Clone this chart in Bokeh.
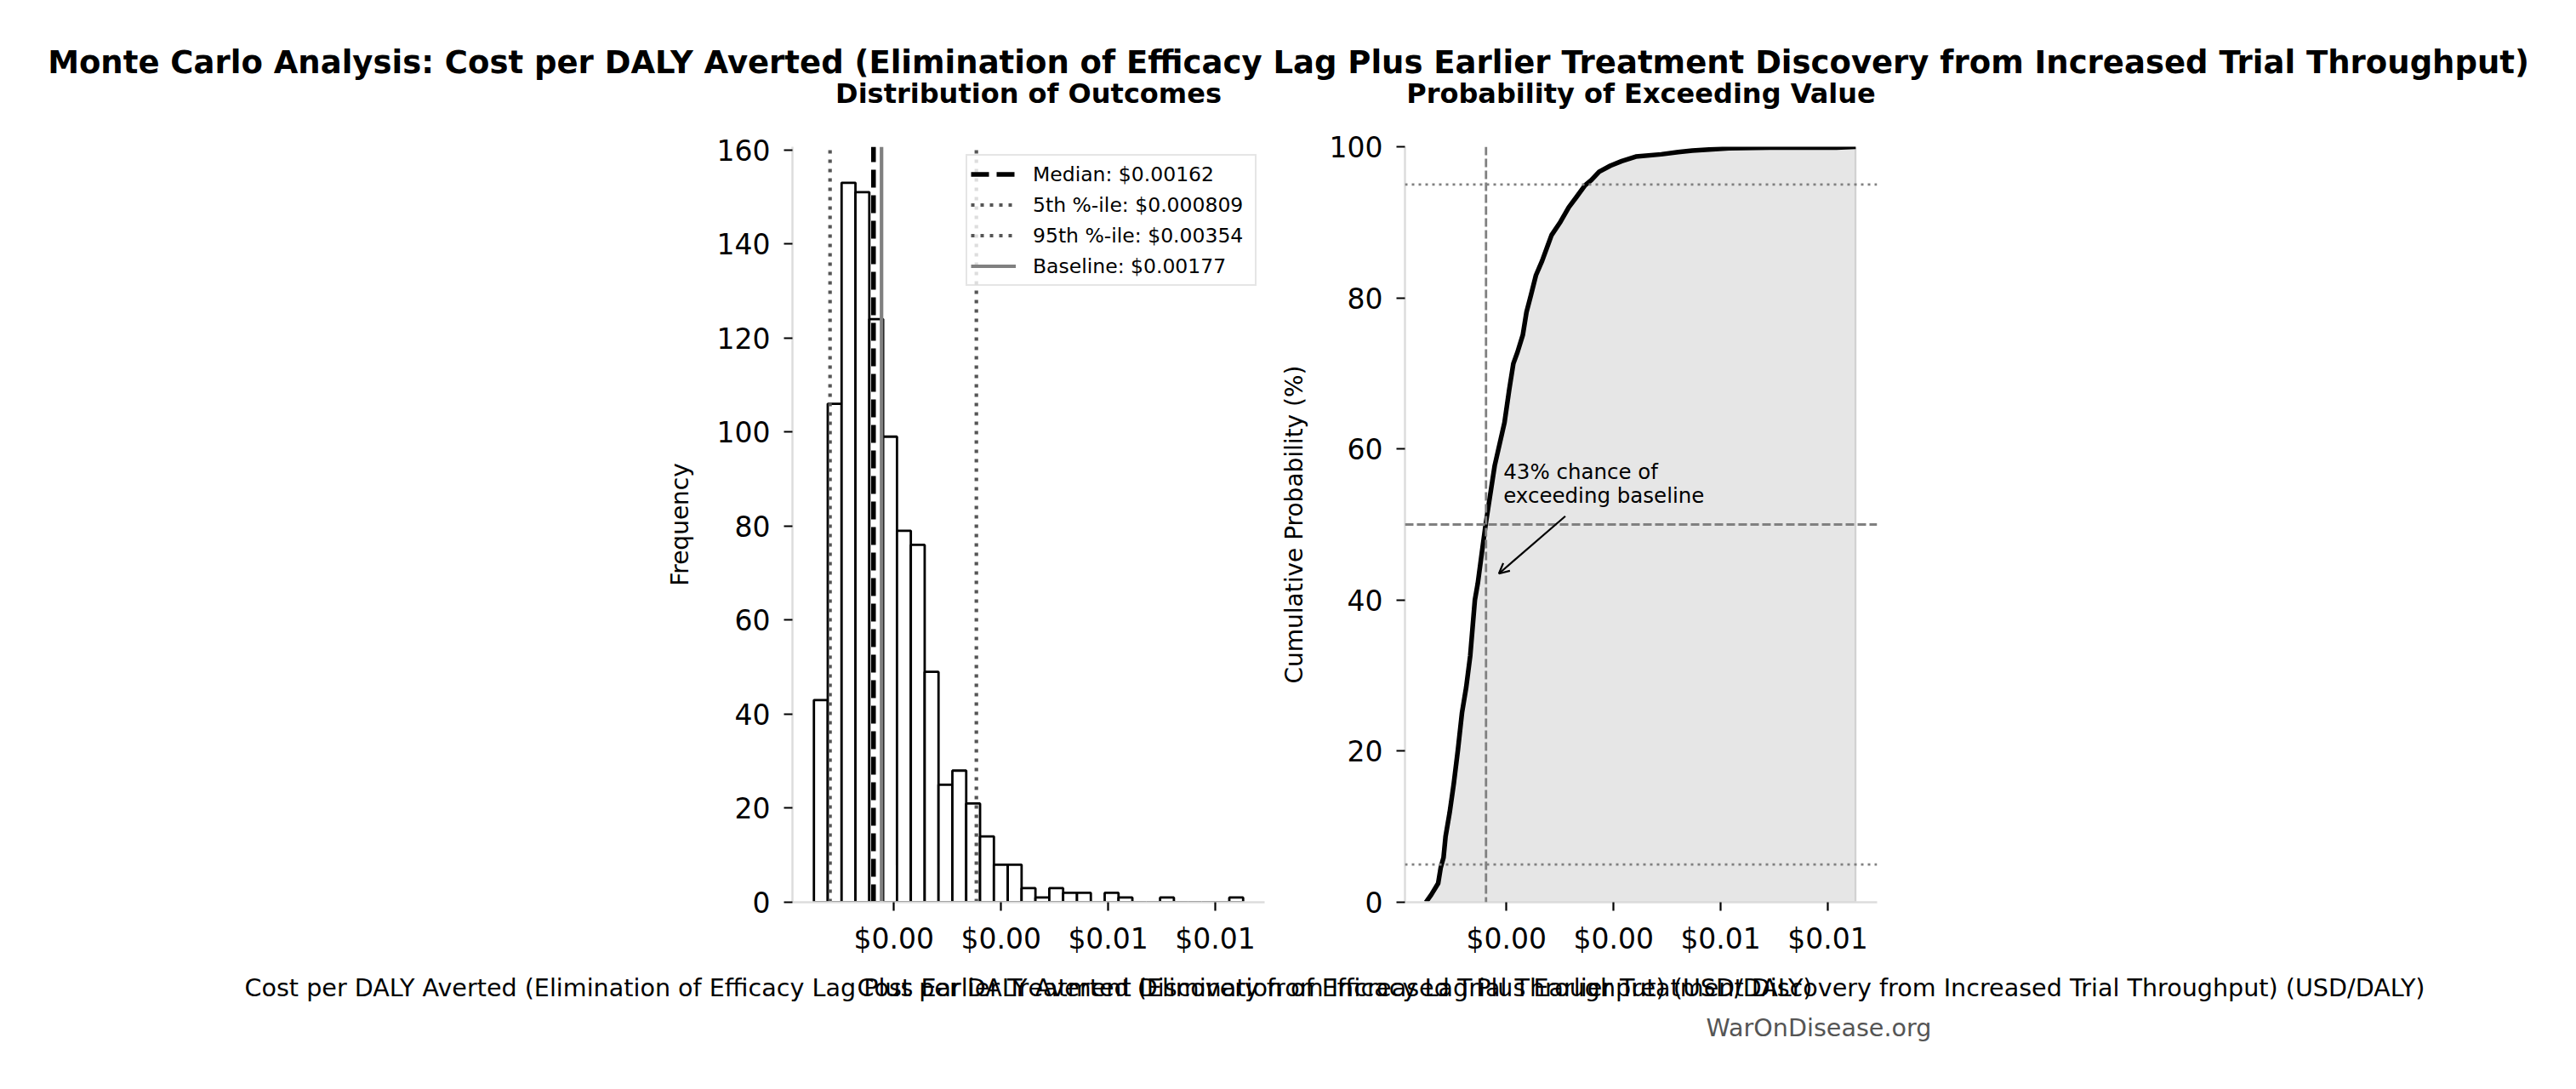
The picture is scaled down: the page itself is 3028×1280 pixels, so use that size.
import numpy as np
from bokeh.plotting import figure
from bokeh.models import (Range1d, FixedTicker, NumeralTickFormatter, Span, Label,
                          Legend, LegendItem, Arrow, OpenHead)
from bokeh.layouts import column, row
from bokeh.embed import file_html
from bokeh.resources import INLINE

# ---------------- data ----------------
hist_counts = [43, 106, 153, 151, 124, 99, 79, 76, 49, 25, 28, 21, 14, 8, 8, 3, 1, 3,
               2, 2, 0, 2, 1, 0, 0, 1, 0, 0, 0, 0, 1]
hist_min = 0.000508
hist_max = 0.008519

median_val = 0.00162
p5_val = 0.000809
p95_val = 0.00354
baseline_val = 0.00177
exceed_pct = 43

cdf_x = [0.000498, 0.000598, 0.000727, 0.000775, 0.000827, 0.000865, 0.000942, 0.001018,
         0.001096, 0.001172, 0.001249, 0.001325, 0.001412, 0.001466, 0.001556, 0.001613,
         0.001782, 0.001965, 0.002054, 0.002130, 0.002207, 0.002307, 0.002375, 0.002460,
         0.002552, 0.002667, 0.002781, 0.002843, 0.003012, 0.003165, 0.003303, 0.003467,
         0.003586, 0.003731, 0.003942, 0.004153, 0.004416, 0.004890, 0.005206, 0.005470,
         0.006153, 0.006920, 0.008158, 0.008519]
cdf_y = [0.0, 1.0, 2.5, 4.6, 5.9, 8.7, 11.9, 15.7, 20.2, 25.1, 28.4, 32.6, 40.0, 42.2,
         47.0, 50.0, 57.8, 63.5, 67.9, 71.3, 72.8, 75.1, 78.1, 80.4, 83.0, 84.9, 87.1,
         88.3, 90.1, 92.0, 93.3, 94.9, 95.6, 96.7, 97.5, 98.1, 98.7, 99.0, 99.3, 99.5,
         99.8, 99.9, 99.9, 100.0]

x_ticks = [0.002, 0.004, 0.006, 0.008]
freq_ticks = [0, 20, 40, 60, 80, 100, 120, 140, 160]
prob_ticks = [0, 20, 40, 60, 80, 100]

title_text = ("Monte Carlo Analysis: Cost per DALY Averted (Elimination of Efficacy Lag "
              "Plus Earlier Treatment Discovery from Increased Trial Throughput)")
sub_left = "Distribution of Outcomes"
sub_right = "Probability of Exceeding Value"
x_label = ("Cost per DALY Averted (Elimination of Efficacy Lag Plus Earlier Treatment "
           "Discovery from Increased Trial Throughput) (USD/DALY)")
y_label_left = "Frequency"
y_label_right = "Cumulative Probability (%)"
footer_text = "WarOnDisease.org"

FONT = "DejaVu Sans"

# ---------------- derived ----------------
edges = np.linspace(hist_min, hist_max, len(hist_counts) + 1)
span_x = hist_max - hist_min
x_lo, x_hi = hist_min - 0.05 * span_x, hist_max + 0.05 * span_x
y_top_left = max(hist_counts) * 1.05


def style(p, yticks, ylabel, label_standoff):
    p.grid.visible = False
    p.outline_line_color = None
    for ax in (p.xaxis[0], p.yaxis[0]):
        ax.axis_line_color = "#dcdcdc"
        ax.axis_line_width = 2.5
        ax.major_tick_line_color = "black"
        ax.major_tick_line_width = 2.2
        ax.major_tick_in = 0
        ax.major_tick_out = 10
        ax.minor_tick_line_color = None
        ax.major_label_text_font = FONT
        ax.major_label_text_font_size = "33px"
        ax.major_label_text_color = "black"
        ax.axis_label_text_font = FONT
        ax.axis_label_text_font_size = "28px"
        ax.axis_label_text_font_style = "normal"
        ax.axis_label_text_color = "black"
    p.xaxis.ticker = FixedTicker(ticks=x_ticks)
    p.xaxis.formatter = NumeralTickFormatter(format="$0.00")
    p.xaxis.major_label_standoff = 13
    p.yaxis.ticker = FixedTicker(ticks=yticks)
    p.yaxis.major_label_standoff = 16
    p.yaxis.axis_label = ylabel
    p.yaxis.axis_label_standoff = label_standoff


# ---------------- top strip: titles ----------------
pt = figure(width=3028, height=140, x_range=Range1d(0, 3028), y_range=Range1d(0, 140),
            min_border=0, toolbar_location=None, output_backend="svg",
            x_axis_type=None, y_axis_type=None, title=None)
pt.outline_line_color = None
pt.add_layout(Label(x=1514, y=67, text=title_text, text_align="center",
                    text_baseline="alphabetic", text_font=FONT, text_font_size="37px",
                    text_font_style="bold", text_color="black"))
pt.add_layout(Label(x=1208.5, y=31, text=sub_left, text_align="center",
                    text_baseline="alphabetic", text_font=FONT, text_font_size="32px",
                    text_font_style="bold", text_color="black"))
pt.add_layout(Label(x=1928.5, y=31, text=sub_right, text_align="center",
                    text_baseline="alphabetic", text_font=FONT, text_font_size="32px",
                    text_font_style="bold", text_color="black"))

# ---------------- left: histogram ----------------
p1 = figure(frame_width=555, frame_height=888, min_border_left=931, min_border_right=4,
            min_border_top=32, min_border_bottom=70,
            x_range=Range1d(x_lo, x_hi), y_range=Range1d(0, y_top_left),
            toolbar_location=None, output_backend="svg", title=None)
style(p1, freq_ticks, y_label_left, 24)

p1.quad(left=edges[:-1], right=edges[1:], top=hist_counts, bottom=0,
        fill_color="white", line_color="black", line_width=2.8)

r_med = p1.segment(x0=[median_val], y0=[0], x1=[median_val], y1=[y_top_left],
                   line_color="black", line_width=5.5, line_dash="21 9")
r_p5 = p1.segment(x0=[p5_val], y0=[0], x1=[p5_val], y1=[y_top_left],
                  line_color="#555555", line_width=4.2, line_dash="4 7")
r_p95 = p1.segment(x0=[p95_val], y0=[0], x1=[p95_val], y1=[y_top_left],
                   line_color="#555555", line_width=4.2, line_dash="4 7")
r_base = p1.segment(x0=[baseline_val], y0=[0], x1=[baseline_val], y1=[y_top_left],
                    line_color="#808080", line_width=4.2)

legend = Legend(items=[
    LegendItem(label=f"Median: ${median_val:.3g}", renderers=[r_med]),
    LegendItem(label=f"5th %-ile: ${p5_val:.3g}", renderers=[r_p5]),
    LegendItem(label=f"95th %-ile: ${p95_val:.3g}", renderers=[r_p95]),
    LegendItem(label=f"Baseline: ${baseline_val:.3g}", renderers=[r_base]),
], location=(204, 724))
legend.label_text_font = FONT
legend.label_text_font_size = "23.5px"
legend.label_text_color = "black"
legend.glyph_width = 53
legend.glyph_height = 35
legend.label_height = 35
legend.label_width = 257
legend.label_standoff = 20
legend.spacing = 1
legend.padding = 4
legend.margin = 0
legend.border_line_color = "#cccccc"
legend.border_line_width = 2.2
legend.background_fill_color = "white"
legend.background_fill_alpha = 0.8
p1.add_layout(legend)

# ---------------- right: cumulative probability ----------------
p2 = figure(frame_width=555, frame_height=888, min_border_left=161, min_border_right=822,
            min_border_top=32, min_border_bottom=70,
            x_range=Range1d(x_lo, x_hi), y_range=Range1d(0, 100),
            toolbar_location=None, output_backend="svg", title=None)
style(p2, prob_ticks, y_label_right, 22)

p2.patch(x=cdf_x + [cdf_x[-1], cdf_x[0]], y=cdf_y + [0.0, 0.0],
         fill_color="#808080", fill_alpha=0.2, line_color="#808080", line_alpha=0.3,
         line_width=2)
p2.add_layout(Span(location=median_val, dimension="height", line_color="#808080",
                   line_width=2.8, line_dash="10 4"))
p2.add_layout(Span(location=50, dimension="width", line_color="#808080",
                   line_width=3, line_dash="10 4"))
p2.add_layout(Span(location=5, dimension="width", line_color="#808080",
                   line_width=2.8, line_dash="3 5"))
p2.add_layout(Span(location=95, dimension="width", line_color="#808080",
                   line_width=2.8, line_dash="3 5"))
p2.line(cdf_x, cdf_y, line_color="black", line_width=5.5, line_join="round")

p2.add_layout(Arrow(end=OpenHead(size=12, line_width=2.2, line_color="black"),
                    x_start=0.0031, y_start=51.1, x_end=0.00186, y_end=43.5,
                    line_width=2.2, line_color="black"))
p2.add_layout(Label(x=0.001945, y=57.0, text=f"{exceed_pct}% chance of",
                    text_baseline="alphabetic", text_font=FONT, text_font_size="24.5px",
                    text_color="black"))
p2.add_layout(Label(x=0.001945, y=53.8, text="exceeding baseline",
                    text_baseline="alphabetic", text_font=FONT, text_font_size="24.5px",
                    text_color="black"))

# ---------------- bottom strip: x labels + footer ----------------
pb = figure(width=3028, height=150, x_range=Range1d(0, 3028), y_range=Range1d(0, 150),
            min_border=0, toolbar_location=None, output_backend="svg",
            x_axis_type=None, y_axis_type=None, title=None)
pb.outline_line_color = None
for cx in (1208.5, 1928.5):
    pb.add_layout(Label(x=cx, y=120, text=x_label, text_align="center",
                        text_baseline="alphabetic", text_font=FONT, text_font_size="28.6px",
                        text_color="black"))
pb.add_layout(Label(x=2137.5, y=73, text=footer_text, text_align="center",
                    text_baseline="alphabetic", text_font=FONT, text_font_size="28.6px",
                    text_color="#555555"))

layout = column(pt, row(p1, p2), pb)
open("out.html", "w").write(file_html(layout, INLINE))
